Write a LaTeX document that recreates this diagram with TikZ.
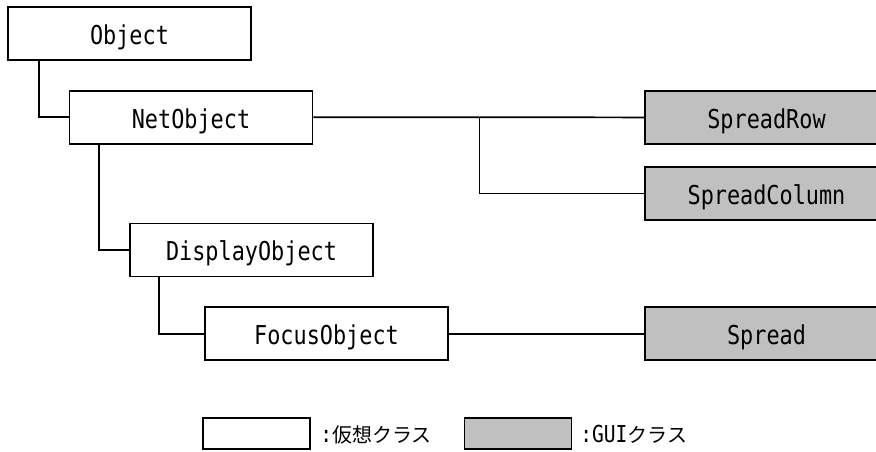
\documentclass[tikz,border=0pt]{standalone}
\usepackage{fontspec}
\newfontfamily\gmono[FakeStretch=0.84]{DejaVu Sans Mono}
\newfontfamily\jpfont{Noto Sans CJK JP}
\begin{document}
\begin{tikzpicture}[x=0.75pt,y=-0.75pt,
  cls/.style={draw=black,line width=1.3pt,fill=white,minimum width=243*0.75pt,
    minimum height=53*0.75pt,inner sep=0pt,text height=16.5pt,text depth=0pt,
    font=\gmono\fontsize{19.5pt}{21pt}\selectfont},
  gui/.style={cls,fill=guigray},
  conn/.style={draw=black,line width=1.3pt},
  legbox/.style={draw=black,line width=1.3pt,minimum width=107*0.75pt,minimum height=31*0.75pt,inner sep=0pt},
  legtext/.style={anchor=west,inner sep=0pt}]
\definecolor{guigray}{HTML}{C0C0C0}
\useasboundingbox (0,0) rectangle (876,452);
\clip (0,0) rectangle (876,452);
% boxes
\node[cls] (obj) at (129.5,33.8) {Object};
\node[cls] (net) at (191,117.2) {NetObject};
\node[cls] (disp) at (251.5,250) {DisplayObject};
\node[cls] (focus) at (326.5,333.7) {FocusObject};
\node[gui] (row) at (766.5,117.4) {SpreadRow};
\node[gui] (col) at (766.5,193.4) {SpreadColumn};
\node[gui] (spread) at (766.5,333.7) {Spread};
% connectors
\draw[conn] ([xshift=24pt]obj.south west) |- (net.west);
\draw[conn] ([xshift=22.5pt]net.south west) |- (disp.west);
\draw[conn] ([xshift=22.5pt]disp.south west) |- (focus.west);
\draw[conn] (net.east) -- (row.west);
\coordinate (br) at (479.5,117.4);
\draw[conn] (br) |- (col.west);
\draw[conn] (focus.east) -- (spread.west);
% legend
\node[legbox,fill=white] (lw) at (256.5,433.7) {};
\node[legbox,fill=guigray] (lg) at (518,433.7) {};
\node[legtext] (tw) at (320,434.5) {\gmono\fontsize{17.5pt}{18pt}\selectfont :\jpfont\fontsize{15pt}{16pt}\selectfont 仮想クラス};
\node[legtext] (tg) at (580,434.5) {\gmono\fontsize{17.5pt}{18pt}\selectfont :GUI\jpfont\fontsize{15pt}{16pt}\selectfont クラス};
\end{tikzpicture}
\end{document}
